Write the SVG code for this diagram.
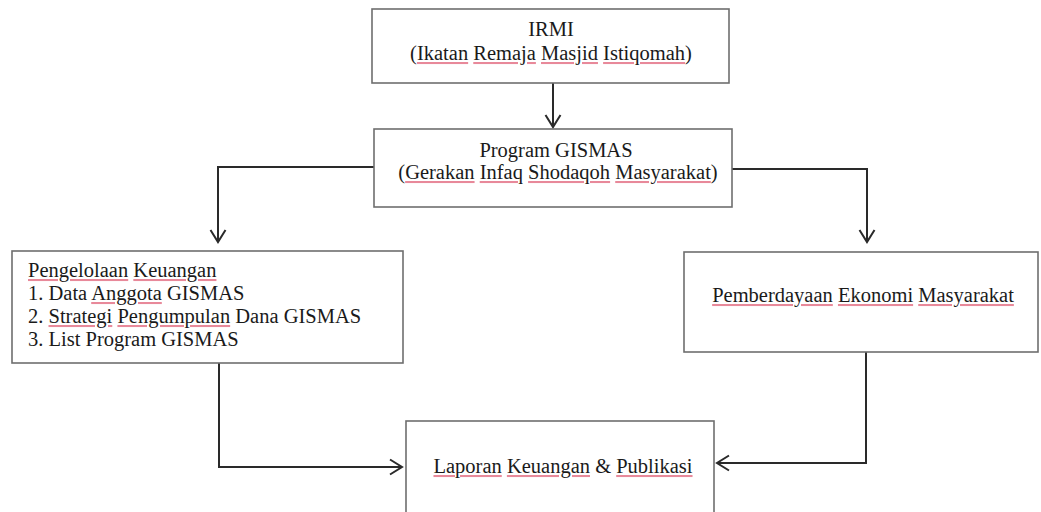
<svg xmlns="http://www.w3.org/2000/svg" width="1041" height="512" viewBox="0 0 1041 512">
<style>
.box{fill:#fff;stroke:#6e6e6e;stroke-width:1.6}
.t{font-family:"Liberation Serif","Times New Roman",serif;font-size:20.5px;fill:#1a1a1a}
.c{text-anchor:middle}
.sp{fill:#e8899a;text-decoration:underline}
.w{fill:#1a1a1a}
.conn{fill:none;stroke:#2a2a2a;stroke-width:2}
</style>
<defs>
<marker id="ah" markerUnits="userSpaceOnUse" markerWidth="30" markerHeight="30" refX="0" refY="0" viewBox="-15 -15 30 30" orient="auto" overflow="visible">
<path d="M-12,-7.5 L0,0 L-12,7.5" fill="none" stroke="#2a2a2a" stroke-width="2"/>
</marker>
</defs>
<rect width="1041" height="512" fill="#fff"/>
<g id="connectors">
<path class="conn" d="M553,83 V127" marker-end="url(#ah)"/>
<path class="conn" d="M374,167 H218 V242" marker-end="url(#ah)"/>
<path class="conn" d="M732,169 H867 V242" marker-end="url(#ah)"/>
<path class="conn" d="M219,363 V467 H402" marker-end="url(#ah)"/>
<path class="conn" d="M866,352 V463 H717" marker-end="url(#ah)"/>
</g>
<g id="irmi">
<rect class="box" x="372" y="9" width="357" height="74"/>
<text class="t c" x="551" y="36">IRMI</text>
<text class="t c" x="551" y="60">(<tspan class="sp"><tspan class="w">Ikatan</tspan></tspan> <tspan class="sp"><tspan class="w">Remaja</tspan></tspan> <tspan class="sp"><tspan class="w">Masjid</tspan></tspan> <tspan class="sp"><tspan class="w">Istiqomah</tspan></tspan>)</text>
</g>
<g id="gismas">
<rect class="box" x="374" y="129" width="358" height="78"/>
<text class="t c" x="556" y="157">Program GISMAS</text>
<text class="t c" x="558" y="179">(<tspan class="sp"><tspan class="w">Gerakan</tspan></tspan> <tspan class="sp"><tspan class="w">Infaq</tspan></tspan> <tspan class="sp"><tspan class="w">Shodaqoh</tspan></tspan> <tspan class="sp"><tspan class="w">Masyarakat</tspan></tspan>)</text>
</g>
<g id="pengelolaan">
<rect class="box" x="12" y="251" width="391" height="112"/>
<text class="t" x="28" y="277"><tspan class="sp"><tspan class="w">Pengelolaan</tspan></tspan> <tspan class="sp"><tspan class="w">Keuangan</tspan></tspan></text>
<text class="t" x="28" y="300">1. Data <tspan class="sp"><tspan class="w">Anggota</tspan></tspan> GISMAS</text>
<text class="t" x="28" y="323">2. <tspan class="sp"><tspan class="w">Strategi</tspan></tspan> <tspan class="sp"><tspan class="w">Pengumpulan</tspan></tspan> Dana GISMAS</text>
<text class="t" x="28" y="346">3. List Program GISMAS</text>
</g>
<g id="pemberdayaan">
<rect class="box" x="684" y="252" width="354" height="100"/>
<text class="t c" x="863" y="302"><tspan class="sp"><tspan class="w">Pemberdayaan</tspan></tspan> <tspan class="sp"><tspan class="w">Ekonomi</tspan></tspan> <tspan class="sp"><tspan class="w">Masyarakat</tspan></tspan></text>
</g>
<g id="laporan">
<rect class="box" x="406" y="421" width="308" height="110"/>
<text class="t c" x="563" y="473"><tspan class="sp"><tspan class="w">Laporan</tspan></tspan> <tspan class="sp"><tspan class="w">Keuangan</tspan></tspan> &amp; <tspan class="sp"><tspan class="w">Publikasi</tspan></tspan></text>
</g>
</svg>
